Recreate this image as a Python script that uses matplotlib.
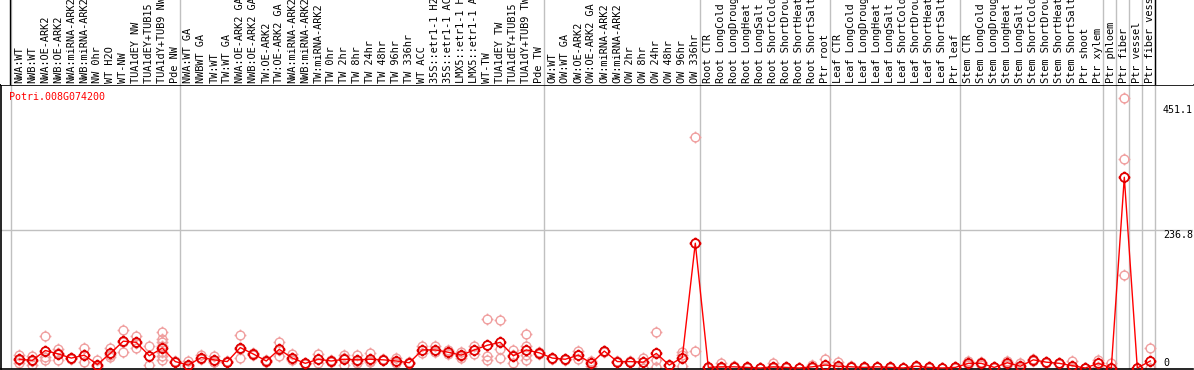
# expression profile chart, Potri.008G074200

import matplotlib
matplotlib.use("Agg")
import matplotlib.pyplot as plt
import numpy as np
from matplotlib.path import Path

plt.rcParams['font.family'] = ['DejaVu Sans Mono']

gene = "Potri.008G074200"

# sample labels, grouped (gray separators between groups)
grp_nw = ["NWA:WT", "NWB:WT", "NWA:OE-ARK2", "NWB:OE-ARK2", "NWA:miRNA-ARK2",
          "NWB:miRNA-ARK2", "NW 0hr", "WT H2O", "WT-NW", "TUA1dEY NW",
          "TUA1dEY+TUB15 NW", "TUA1dY+TUB9 NW", "Pde NW"]
grp_tw = ["NWA:WT GA", "NWBWT GA", "TW:WT", "TW:WT GA", "NWA:OE-ARK2 GA",
          "NWB:OE-ARK2 GA", "TW:OE-ARK2", "TW:OE-ARK2 GA", "NWA:miRNA-ARK2",
          "NWB:miRNA-ARK2", "TW:miRNA-ARK2", "TW 0hr", "TW 2hr", "TW 8hr", "TW 24hr",
          "TW 48hr", "TW 96hr", "TW 336hr", "WT ACC", "35S::etr1-1 H2O",
          "35S::etr1-1 ACC", "LMX5::etr1-1 H2O", "LMX5::etr1-1 ACC", "WT-TW",
          "TUA1dEY TW", "TUA1dEY+TUB15 TW", "TUA1dY+TUB9 TW", "Pde TW"]
grp_ow = ["OW:WT", "OW:WT GA", "OW:OE-ARK2", "OW:OE-ARK2 GA", "OW:miRNA-ARK2",
          "OW:miRNA-ARK2", "OW 2hr", "OW 8hr", "OW 24hr", "OW 48hr", "OW 96hr",
          "OW 336hr"]
grp_root = ["Root CTR", "Root LongCold", "Root LongDrought", "Root LongHeat",
            "Root LongSalt", "Root ShortCold", "Root ShortDrought",
            "Root ShortHeat", "Root ShortSalt", "Ptr root"]
grp_leaf = ["Leaf CTR", "Leaf LongCold", "Leaf LongDrought", "Leaf LongHeat",
            "Leaf LongSalt", "Leaf ShortCold", "Leaf ShortDrought",
            "Leaf ShortHeat", "Leaf ShortSalt", "Ptr leaf"]
grp_stem = ["Stem CTR", "Stem LongCold", "Stem LongDrought", "Stem LongHeat",
            "Stem LongSalt", "Stem ShortCold", "Stem ShortDrought",
            "Stem ShortHeat", "Stem ShortSalt", "Ptr shoot", "Ptr xylem"]
grp_ptr = [["Ptr phloem"], ["Ptr fiber"], ["Ptr vessel"], ["Ptr fiber vessel"]]

groups = [grp_nw, grp_tw, grp_ow, grp_root, grp_leaf, grp_stem] + grp_ptr

# mean expression per sample
means = [15, 13, 30, 24, 17, 22, 6, 25, 46, 44, 21, 34, 11,
         5, 18, 14, 11, 35, 24, 12, 32, 17, 8, 15, 12, 15, 14, 15, 14, 12, 9,
         31, 31, 27, 22, 31, 39, 44, 21, 31, 26,
         17, 15, 22, 8, 29, 11, 11, 10, 25, 5, 18, 214,
         1, 2, 2, 1, 0, 2, 1, 0, 2, 5,
         3, 2, 1, 2, 1, 0, 3, 1, 0, 1,
         8, 8, 1, 9, 3, 14, 10, 8, 4, 0, 8,
         0, 327, 0, 12]

# replicate values per sample
reps = [[23, 8, 14], [21, 6, 12], [55, 19, 14], [33, 14, 25], [18, 15],
        [34, 10, 22], [14, 2, 4], [34, 22, 19], [65, 28, 45], [55, 34, 43],
        [38, 5, 20], [61, 50, 44, 37, 28, 21, 13], [12, 10],
        [12, 1, 3], [22, 16], [21, 10, 11], [12, 10], [57, 17, 32], [25, 22],
        [13, 11], [44, 21, 31], [24, 13, 15], [9, 7], [24, 8], [13, 11],
        [22, 6, 17], [22, 8, 12], [25, 10, 12], [15, 13], [17, 8], [10, 8],
        [38, 25], [37, 28], [31, 24], [28, 21, 18], [38, 24], [84, 21, 13],
        [82, 32, 17], [31, 8, 23], [58, 37, 22, 14], [24, 28],
        [16, 18], [14, 16], [30, 15], [3, 12], [30, 28], [10, 12], [12, 10],
        [18, 0, 11], [61, 13, 2], [4, 6], [27, 4, 22], [396, 29],
        [0, 2], [8, 0], [3, 1], [1, 0], [0, 0], [8, 0], [1, 0], [0, 0], [5, 0],
        [15, 0],
        [11, 0], [3, 1], [1, 0], [2, 1], [1, 0], [0, 0], [4, 2], [2, 0], [0, 0],
        [2, 0],
        [12, 5], [10, 6], [1, 0], [12, 6], [8, 0], [15, 12], [11, 8], [9, 7],
        [12, 0], [0, 0], [14, 1],
        [8, 0], [463, 358, 160], [0, 0], [35, 0]]

yticks = [0, 236.8, 451.1]

labels = [s for g in groups for s in g]
n = len(labels)
xs = np.arange(n)

# circle marker with four small ticks
circ = Path.circle((0, 0), 1.0)
tk = 1.35
ticks = Path([(0, 1), (0, tk), (0, -1), (0, -tk), (1, 0), (tk, 0), (-1, 0), (-tk, 0)],
             [Path.MOVETO, Path.LINETO] * 4)
mk = Path.make_compound_path(circ, ticks)

W, H = 1194, 370
fig = plt.figure(figsize=(W / 100, H / 100), dpi=100)
ax = fig.add_axes([1 / W, 1 / H, 1192 / W, 284 / H])
axl = fig.add_axes([1 / W, 285 / H, 1192 / W, 85 / H])

step, x0 = 13.0, 19.3
ax.set_xlim((1 - x0) / step, (1193 - x0) / step)
axl.set_xlim((1 - x0) / step, (1193 - x0) / step)
ppu = 0.5833
ax.set_ylim(-1 / ppu, 283 / ppu)
axl.set_ylim(0, 85)

# group separators
bounds = [-8.3 / step]
pos = 0
for g in groups:
    pos += len(g)
    bounds.append(pos - 1 + 5 / step)
for b in bounds:
    ax.axvline(b, color="#c0c0c0", lw=1, zorder=0)
    axl.axvline(b, color="#c0c0c0", lw=1, zorder=0)
axl.axvline((10 - x0) / step, color="black", lw=1)
axl.axvline((1155 - x0) / step, color="black", lw=1)
ax.axhline(yticks[1], color="#c0c0c0", lw=1, zorder=0)

# replicates
for i, r in enumerate(reps):
    ax.plot([i] * len(r), r, linestyle="none", marker=mk, ms=8.5,
            mfc="none", mec="#f0a0a0", mew=1.0, zorder=2)
# mean line and markers
ax.plot(xs, means, color="red", lw=1, zorder=3)
ax.plot(xs, means, linestyle="none", marker=mk, ms=8.5, mfc="none",
        mec="#e00000", mew=1.3, zorder=4)

fig.text(9 / W, 1 - 97 / H, gene, color="red", fontsize=7.2,
         ha="left", va="center")
xl = (1163 - x0) / step
ax.text(xl, yticks[2], "451.1", fontsize=7.2, ha="left", va="top")
ax.text(xl, yticks[1], "236.8", fontsize=7.2, ha="left", va="top")
ax.text(xl, yticks[0], "0", fontsize=7.2, ha="left", va="bottom")

for i, s in enumerate(labels):
    axl.text(i, 2, s, rotation=90, ha="center", va="bottom", fontsize=7.4,
             clip_on=False)

for a in (ax, axl):
    a.set_xticks([])
    a.set_yticks([])
for sp in axl.spines.values():
    sp.set_visible(False)
ax.spines["right"].set_visible(False)
for sp in ("left", "top", "bottom"):
    ax.spines[sp].set_linewidth(1.2)

fig.savefig("out.png", dpi=100)
